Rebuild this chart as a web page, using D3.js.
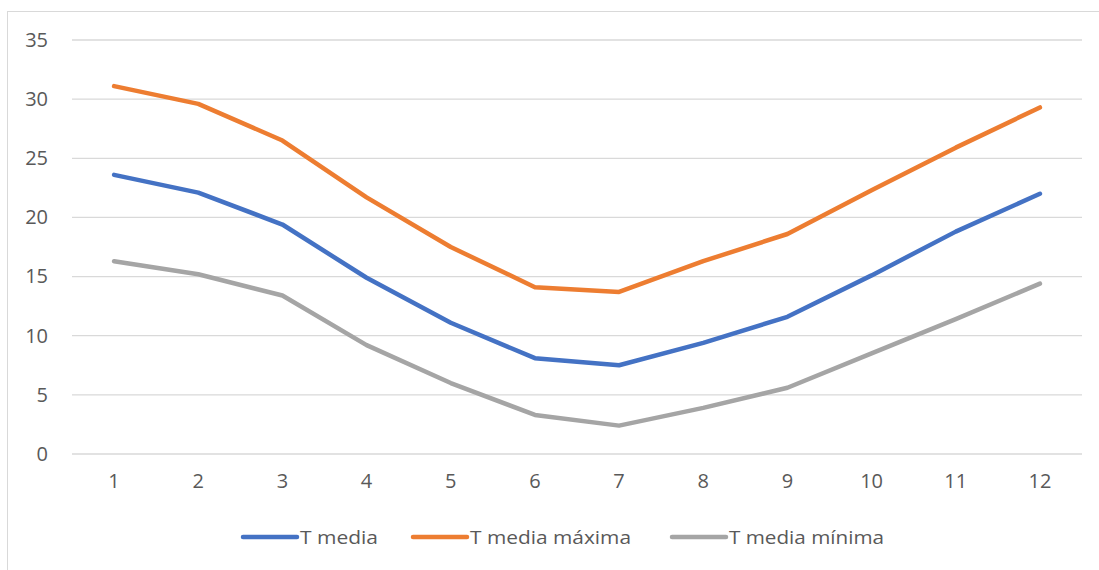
<!DOCTYPE html>
<html>
<head>
<meta charset="utf-8">
<script src="https://cdn.jsdelivr.net/npm/d3@7"></script>
<style>
  html, body { margin: 0; padding: 0; background: #fff; }
  svg { display: block; }
  text { font-family: "Open Sans", "Noto Sans", sans-serif; fill: #595959; }
</style>
</head>
<body>
<svg id="chart" width="1099" height="570"></svg>
<script>
// Monthly mean temperatures (°C)
const months = [1, 2, 3, 4, 5, 6, 7, 8, 9, 10, 11, 12];
const tMedia = [23.6, 22.1, 19.4, 14.9, 11.1, 8.1, 7.5, 9.4, 11.6, 15.1, 18.8, 22.0];
const tMediaMaxima = [31.1, 29.6, 26.5, 21.7, 17.5, 14.1, 13.7, 16.3, 18.6, 22.3, 25.9, 29.3];
const tMediaMinima = [16.3, 15.2, 13.4, 9.2, 6.0, 3.3, 2.4, 3.9, 5.6, 8.5, 11.4, 14.4];
const yTicks = [0, 5, 10, 15, 20, 25, 30, 35];
const seriesNames = ["T media", "T media máxima", "T media mínima"];
const seriesColors = ["#4472C4", "#ED7D31", "#A5A5A5"];

const series = [tMedia, tMediaMaxima, tMediaMinima].map((vals, i) => ({
  name: seriesNames[i],
  color: seriesColors[i],
  values: vals.map((v, j) => ({ m: months[j], v }))
}));

const svg = d3.select("#chart");
const W = 1099, H = 570;
const plot = { left: 72, right: 1082, top: 40, bottom: 454 };
const tickFont = "20px";
const legendFont = "19px";

// chart frame
svg.append("rect")
  .attr("x", 7.5).attr("y", 11.5)
  .attr("width", W + 10).attr("height", H)
  .attr("fill", "none").attr("stroke", "#d9d9d9").attr("stroke-width", 1);

const x = d3.scaleBand().domain(months).range([plot.left, plot.right]);
const y = d3.scaleLinear().domain([0, 35]).range([plot.bottom, plot.top]);

// horizontal gridlines
svg.append("g").selectAll("line").data(yTicks).join("line")
  .attr("x1", plot.left).attr("x2", plot.right)
  .attr("y1", d => y(d)).attr("y2", d => y(d))
  .attr("stroke", "#d9d9d9").attr("stroke-width", 1.3);

// y axis labels
const yAxis = d3.axisLeft(y).tickValues(yTicks).tickSize(0).tickPadding(0);
const gy = svg.append("g").attr("transform", `translate(48,0)`).call(yAxis);
gy.select(".domain").remove();
gy.selectAll("text").style("font-size", tickFont).attr("fill", "#595959");

// x axis labels
const xAxis = d3.axisBottom(x).tickSize(0).tickPadding(0);
const gx = svg.append("g").attr("transform", `translate(0,474)`).call(xAxis);
gx.select(".domain").remove();
gx.selectAll("text").style("font-size", tickFont).attr("fill", "#595959");

// series lines
const line = d3.line()
  .x(d => x(d.m) + x.bandwidth() / 2)
  .y(d => y(d.v));

svg.append("g").selectAll("path").data(series).join("path")
  .attr("d", d => line(d.values))
  .attr("fill", "none")
  .attr("stroke", d => d.color)
  .attr("stroke-width", 4.5)
  .attr("stroke-linejoin", "round")
  .attr("stroke-linecap", "round");

// legend
const legendX = [243, 413, 672];
const legendTextW = [78, 161, 155];
const lg = svg.append("g").selectAll("g").data(series).join("g")
  .attr("transform", (d, i) => `translate(${legendX[i]},537)`);
lg.append("line")
  .attr("x1", 0).attr("x2", 54).attr("y1", 0).attr("y2", 0)
  .attr("stroke", d => d.color).attr("stroke-width", 4.5)
  .attr("stroke-linecap", "round");
lg.append("text")
  .attr("x", 57).attr("y", 0).attr("dy", "0.35em")
  .style("font-size", legendFont)
  .attr("textLength", (d, i) => legendTextW[i])
  .attr("lengthAdjust", "spacingAndGlyphs")
  .text(d => d.name);
</script>
</body>
</html>
